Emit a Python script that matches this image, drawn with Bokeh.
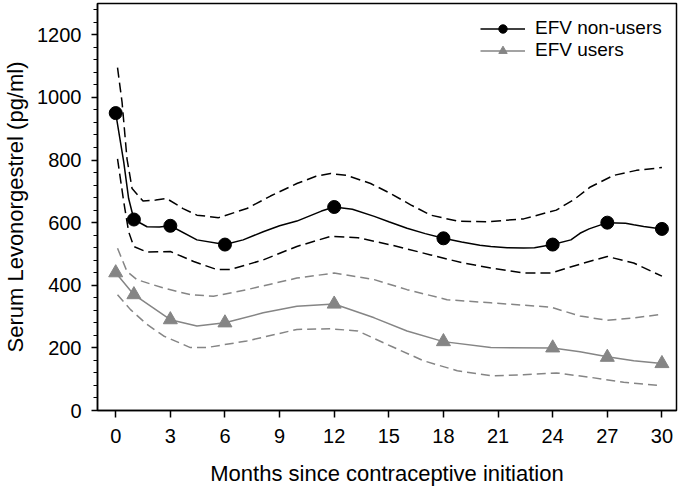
from bokeh.plotting import figure
from bokeh.models import Range1d, FixedTicker, Legend, LegendItem
from bokeh.embed import file_html
from bokeh.resources import INLINE

# --- data ---
x_ticks = [0, 3, 6, 9, 12, 15, 18, 21, 24, 27, 30]
y_ticks = [0, 200, 400, 600, 800, 1000, 1200]
y_minor = [40, 80, 120, 160, 240, 280, 320, 360, 440, 480, 520, 560, 640, 680, 720, 760,
           840, 880, 920, 960, 1040, 1080, 1120, 1160, 1240, 1280]

# EFV non-users: observed points
nonusers_months = [0, 1, 3, 6, 12, 18, 24, 27, 30]
nonusers_values = [950, 610, 590, 530, 650, 550, 530, 600, 580]
# fitted curve
nonusers_fit_m = [0, 0.44, 0.71, 1, 1.72, 2.4, 3, 4.46, 6, 7, 8.1, 9, 9.95, 11.3, 12, 13, 14.2,
                  15, 16, 17, 18, 19, 20, 20.6, 21.5, 22.4, 23, 24, 25, 25.5, 26, 27, 28, 28.45, 29, 30]
nonusers_fit_v = [950, 794, 677, 610, 587, 586, 590, 545, 530, 545, 571, 590, 605, 637, 650, 643, 620,
                  603, 582, 565, 550, 538, 528, 524, 520, 519, 520, 530, 545, 566, 580, 600, 598, 593, 588, 580]
nonusers_hi_m = [0.1, 0.35, 0.62, 0.9, 1.5, 2.2, 2.8, 3.7, 4.46, 5.65, 7.2, 8.5, 9.95, 11, 11.8, 12.7,
                 14, 15.1, 16.2, 17.3, 18.76, 20.4, 22.4, 24.2, 25.2, 26.07, 27.35, 28.6, 30]
nonusers_hi_v = [1095, 984, 804, 709, 669, 672, 677, 645, 624, 616, 645, 685, 725, 748, 757, 751,
                 725, 693, 657, 624, 605, 603, 612, 640, 675, 714, 751, 767, 776]
nonusers_lo_m = [0.1, 0.44, 0.71, 0.99, 1.72, 3.0, 4.28, 5.56, 6.29, 8.1, 9.95, 11.8, 13.3, 15.1,
                 17.3, 19.1, 20.6, 22.4, 23.9, 25.7, 27.0, 28.45, 30]
nonusers_lo_v = [804, 667, 571, 524, 506, 508, 476, 450, 450, 481, 524, 556, 552, 529,
                 497, 471, 455, 439, 439, 471, 492, 471, 429]

# EFV users
users_months = [0, 1, 3, 6, 12, 18, 24, 27, 30]
users_values = [440, 370, 290, 280, 340, 220, 200, 170, 150]
users_fit_m = [0, 1, 2, 3, 4.46, 6, 8.1, 9.95, 12, 14.2, 16, 18, 20.6, 24, 25.5, 27, 28.45, 30]
users_fit_v = [440, 370, 330, 290, 270, 280, 312, 333, 340, 296, 254, 220, 201, 200, 188, 172, 159, 150]
users_hi_m = [0.1, 0.62, 1.17, 2.63, 4.1, 5.37, 7.2, 9.95, 12, 14.2, 16, 18.2, 20.6, 23.9, 25.5, 27, 28.45, 30]
users_hi_v = [518, 444, 418, 391, 370, 365, 386, 423, 439, 418, 386, 354, 344, 330, 302, 288, 296, 307]
users_lo_m = [0.1, 0.8, 1.72, 2.63, 4.1, 5.0, 7.2, 9.95, 11.8, 13.3, 15.1, 16.9, 18.76, 20.6, 22.4,
              24.2, 26.07, 27.9, 30]
users_lo_v = [370, 323, 275, 238, 201, 201, 222, 259, 261, 254, 206, 159, 127, 111, 114,
              120, 106, 90, 79]

labels = ["EFV non-users", "EFV users"]

FONT = "Liberation Sans"
BLACK = "#000000"
GRAY = "#858585"

p = figure(width=682, height=488, output_backend="svg", toolbar_location=None,
           x_range=Range1d(-1, 30.8), y_range=Range1d(0, 1300),
           min_border_left=96, min_border_right=6, min_border_top=3, min_border_bottom=78)
p.background_fill_color = "white"
p.border_fill_color = "white"
p.grid.visible = False
p.outline_line_color = "black"
p.outline_line_width = 1.5

for ax in (p.xaxis[0], p.yaxis[0]):
    ax.axis_line_color = "black"
    ax.axis_line_width = 1.5
    ax.major_tick_line_color = "black"
    ax.major_tick_line_width = 1.5
    ax.major_tick_in = 0
    ax.major_label_text_font = FONT
    ax.major_label_text_font_size = "20px"
    ax.major_label_text_color = "black"
    ax.axis_label_text_font = FONT
    ax.axis_label_text_font_size = "22px"
    ax.axis_label_text_font_style = "normal"
    ax.axis_label_text_color = "black"

p.xaxis.ticker = FixedTicker(ticks=x_ticks)
p.xaxis.minor_tick_line_color = None
p.xaxis.major_tick_out = 7
p.xaxis.major_label_standoff = 11
p.xaxis.axis_label = "Months since contraceptive initiation"
p.xaxis.axis_label_standoff = 15

p.yaxis.ticker = FixedTicker(ticks=y_ticks, minor_ticks=y_minor)
p.yaxis.major_tick_out = 6
p.yaxis.minor_tick_out = 4
p.yaxis.minor_tick_in = 0
p.yaxis.minor_tick_line_color = "black"
p.yaxis.minor_tick_line_width = 1.2
p.yaxis.major_label_standoff = 10
p.yaxis.axis_label = "Serum Levonorgestrel (pg/ml)"
p.yaxis.axis_label_standoff = 6

# confidence bands
p.line(nonusers_hi_m, nonusers_hi_v, line_color=BLACK, line_width=1.5, line_dash="10 5")
p.line(nonusers_lo_m, nonusers_lo_v, line_color=BLACK, line_width=1.5, line_dash="10 5")
p.line(users_hi_m, users_hi_v, line_color=GRAY, line_width=1.5, line_dash="9 5")
p.line(users_lo_m, users_lo_v, line_color=GRAY, line_width=1.5, line_dash="9 5")

# fitted lines and points
l1 = p.line(nonusers_fit_m, nonusers_fit_v, line_color=BLACK, line_width=1.5)
s1 = p.scatter(nonusers_months, nonusers_values, marker="circle", size=13,
               fill_color=BLACK, line_color=BLACK)
l2 = p.line(users_fit_m, users_fit_v, line_color=GRAY, line_width=1.5)
s2 = p.scatter(users_months, users_values, marker="triangle", size=14,
               fill_color=GRAY, line_color=GRAY)

legend = Legend(items=[LegendItem(label=labels[0], renderers=[l1, s1]),
                       LegendItem(label=labels[1], renderers=[l2, s2])],
                location=(383, 349), orientation="vertical",
                label_text_font=FONT, label_text_font_size="19px", label_text_color="black",
                glyph_width=45, glyph_height=21, label_height=21, label_standoff=10,
                spacing=0, padding=0, margin=0,
                background_fill_alpha=0, border_line_alpha=0)
p.add_layout(legend)

open("out.html", "w").write(file_html(p, INLINE))
